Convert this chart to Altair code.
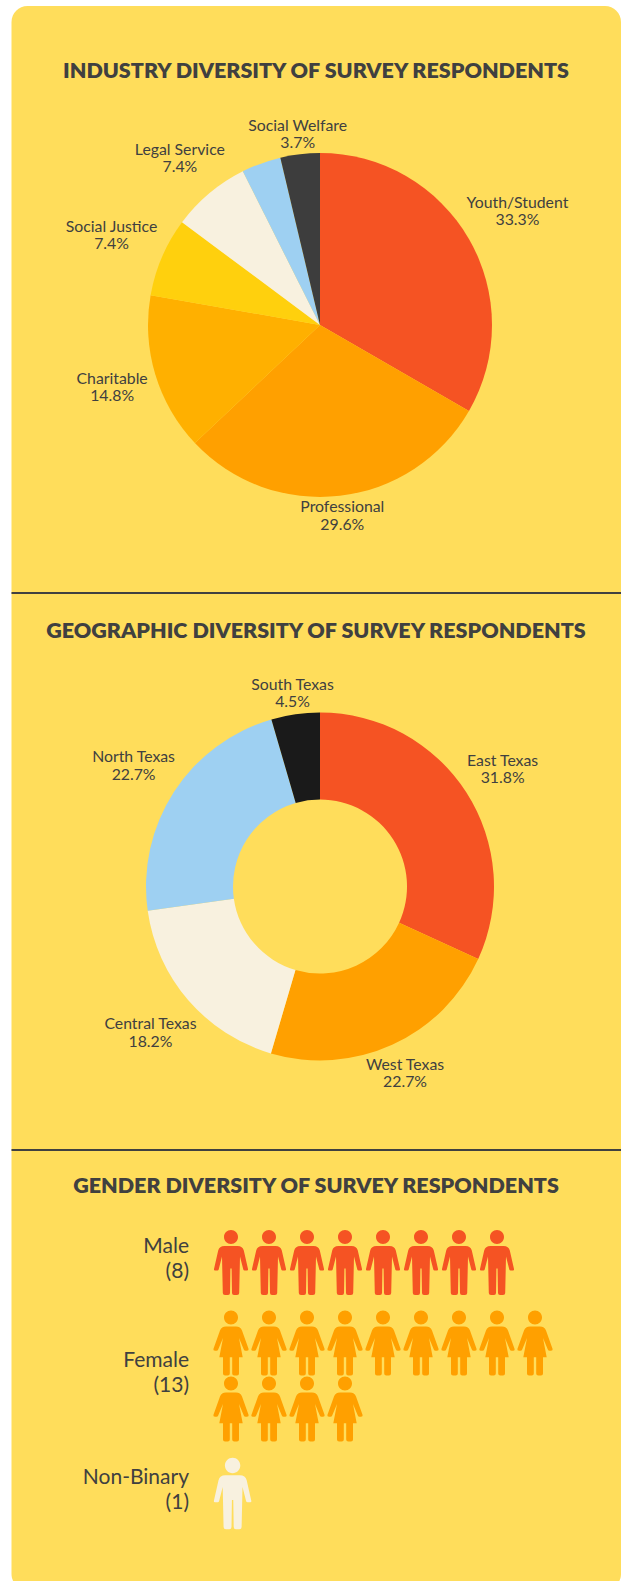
import altair as alt
import pandas as pd

FONT = "Lato"
INK = "#404040"
PANEL = "#FFDD5B"

industry_names = ["Youth/Student", "Professional", "Charitable", "Social Justice",
                  "Legal Service", "", "Social Welfare"]
industry_pct = [33.3, 29.6, 14.8, 7.4, 7.4, 3.7, 3.7]
industry_colors = ["#F55323", "#FFA000", "#FFB000", "#FFD00D", "#F8F1DF", "#9ED0F2", "#3D3D3D"]
industry_label_radius = [228, 192, 217, 227, 218, 0, 192]

region_names = ["East Texas", "West Texas", "Central Texas", "North Texas", "South Texas"]
region_pct = [31.8, 22.7, 18.2, 22.7, 4.5]
region_colors = ["#F55323", "#FFA000", "#F8F1DF", "#9ED0F2", "#1A1A1A"]
region_label_radius = [217, 205, 224, 222, 195]

gender_names = ["Male", "Female", "Non-Binary"]
gender_counts = [8, 13, 1]

titles = ["INDUSTRY DIVERSITY OF SURVEY RESPONDENTS",
          "GEOGRAPHIC DIVERSITY OF SURVEY RESPONDENTS",
          "GENDER DIVERSITY OF SURVEY RESPONDENTS"]

# Pictogram outlines in pixels around the icon centre; size=4 keeps them at unit scale.
HEAD = "M7 -25.5A7 7 0 1 1 -7 -25.5A7 7 0 1 1 7 -25.5Z"
MAN = ("M-6.5 -16.5L6.5 -16.5C10 -16.5 12 -15 12.8 -12L17 6.5Q17.3 8 16 8L13.6 8Q12.6 8 12.3 7"
       "L9 -6L8.2 30.5Q8.2 32.5 6 32.5L3 32.5Q1 32.5 1 30.5L0.6 6L-0.6 6L-1 30.5"
       "Q-1 32.5 -3 32.5L-6 32.5Q-8.2 32.5 -8.2 30.5L-9 -6L-12.3 7Q-12.6 8 -13.6 8L-16 8"
       "Q-17.3 8 -17 6.5L-12.8 -12C-12 -15 -10 -16.5 -6.5 -16.5Z") + HEAD
WOMAN = ("M-5 -16.5L5 -16.5C8 -16.5 10 -15 11 -12.5L17.6 6Q18 7.8 16 7.8L14.5 7.8Q13.3 7.8 12.8 6.5"
         "L8 -5L11.7 14.3L8 14.3L8 30.5Q8 32.5 6 32.5L3.2 32.5Q1.2 32.5 1.2 30.5L1.2 14.3L-1.2 14.3"
         "L-1.2 30.5Q-1.2 32.5 -3.2 32.5L-6 32.5Q-8 32.5 -8 30.5L-8 14.3L-11.7 14.3L-8 -5L-12.8 6.5"
         "Q-13.3 7.8 -14.5 7.8L-16 7.8Q-18 7.8 -17.6 6L-11 -12.5C-10 -15 -8 -16.5 -5 -16.5Z") + HEAD

WIDTH, HEIGHT = 621, 1581


def text_at(label, x, y, size, weight="normal", align="center"):
    """One fixed line of text at a pixel position."""
    return (alt.Chart(pd.DataFrame({"t": [label]}))
            .mark_text(font=FONT, fontSize=size, fontWeight=weight, color=INK, align=align, baseline="middle")
            .encode(text="t:N", x=alt.value(x), y=alt.value(y)))


def pie(names, pct, colors, label_radius, cx, cy, outer, inner=0):
    df = pd.DataFrame({
        "i": range(len(names)),
        "pct": pct,
        "fill": colors,
        "lr": label_radius,
        "label": [f"{n}\n{p}%" if n else "" for n, p in zip(names, pct)],
    })
    domain = alt.Scale(domain=[0, sum(pct)])
    base = alt.Chart(df).encode(x=alt.value(cx), y=alt.value(cy))
    arcs = base.mark_arc(outerRadius=outer, innerRadius=inner).encode(
        theta=alt.Theta("pct:Q", stack=True, scale=domain),
        order=alt.Order("i:Q"),
        color=alt.Color("fill:N", scale=None))
    # Each label sits on the middle angle of its slice, at that slice's own distance.
    labels = (base
              .transform_stack(stack="pct", groupby=[], sort=[alt.SortField("i", order="ascending")],
                               as_=["start", "stop"])
              .transform_calculate(mid="(datum.start + datum.stop) / 2")
              .mark_text(font=FONT, fontSize=15.8, color=INK, lineBreak="\n", lineHeight=17.5,
                         align="center", baseline="middle", dy=-8.5)
              .encode(theta=alt.Theta("mid:Q", stack=None, scale=domain),
                      text="label:N", radius=alt.Radius("lr:Q", scale=None)))
    return [arcs, labels]


def people(count, shape, color, per_row=9, y=None, size=4, x_offset=0):
    df = pd.DataFrame({"col": [i % per_row for i in range(count)],
                       "row": [i // per_row for i in range(count)]})
    x = alt.X("col:Q", scale=alt.Scale(domain=[0, 8], range=[231, 535]), axis=None)
    y_enc = (alt.value(y) if y is not None
             else alt.Y("row:Q", scale=alt.Scale(domain=[0, 1], range=[1343, 1409]), axis=None))
    return (alt.Chart(df)
            .mark_point(shape=shape, size=size, filled=True, opacity=1, color=color, xOffset=x_offset)
            .encode(x=x, y=y_enc))


panel = (alt.Chart(pd.DataFrame({"a": [0]}))
         .mark_rect(color=PANEL, cornerRadius=16)
         .encode(x=alt.value(11.5), x2=alt.value(621), y=alt.value(6), y2=alt.value(1590)))


def divider(y):
    return (alt.Chart(pd.DataFrame({"a": [0]}))
            .mark_rule(color=INK, strokeWidth=2)
            .encode(x=alt.value(11.5), x2=alt.value(621), y=alt.value(y)))


layers = [panel, divider(593), divider(1150),
          text_at(titles[0], 316, 71.5, 21.5, 800),
          text_at(titles[1], 316, 631.5, 21.5, 800),
          text_at(titles[2], 316, 1186.5, 21.5, 800)]
layers += pie(industry_names, industry_pct, industry_colors, industry_label_radius, 320, 325, 172)
layers += pie(region_names, region_pct, region_colors, region_label_radius, 320, 886.5, 174, 87)

label_rows = [(1247, 1272), (1361, 1386), (1478, 1503)]
for name, count, (y1, y2) in zip(gender_names, gender_counts, label_rows):
    layers.append(text_at(name, 189, y1, 21, align="right"))
    layers.append(text_at(f"({count})", 189, y2, 21, align="right"))

layers.append(people(gender_counts[0], MAN, "#F55323", y=1262.5))
layers.append(people(gender_counts[1], WOMAN, "#FFA000"))
layers.append(people(gender_counts[2], MAN, "#F8F1DF", y=1493.5, size=4.84, x_offset=1.6))

chart = (alt.layer(*layers)
         .properties(width=WIDTH, height=HEIGHT, padding=0, background="white",
                     autosize=alt.AutoSizeParams(type="none"))
         .configure_view(stroke=None))

chart.save("out.html", embed_options={"renderer": "svg", "actions": False})
